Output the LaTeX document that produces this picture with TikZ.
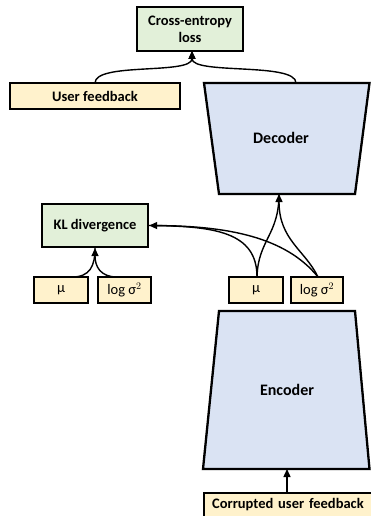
\documentclass[tikz,border=0pt]{standalone}
\usepackage{fontspec}
\setmainfont{Carlito}
\usetikzlibrary{arrows.meta}
\definecolor{boxgreen}{HTML}{E2F0D9}
\definecolor{boxyellow}{HTML}{FFF2CC}
\definecolor{boxblue}{HTML}{DAE3F3}
\tikzset{
  lbox/.style={draw=black, line width=2.3pt, rectangle, inner sep=0pt, align=center, font=\fontsize{14.5}{17}\selectfont\bfseries},
  greenbox/.style={lbox, fill=boxgreen},
  yellowbox/.style={lbox, fill=boxyellow},
  varbox/.style={draw=black, line width=2.3pt, rectangle, inner sep=0pt, fill=boxyellow, minimum height=26pt, font=\fontsize{14.5}{17}\selectfont},
  trap/.style={draw=black, line width=2.3pt, fill=boxblue},
  conn/.style={line width=1.4pt},
  arr/.style={conn, -{Triangle[length=8pt,width=7pt]}},
  biglabel/.style={font=\fontsize{16}{19}\selectfont\bfseries},
}
\begin{document}
\begin{tikzpicture}[x=1pt,y=-1pt]
\useasboundingbox (0,0) rectangle (371,516);
\clip (0,0) rectangle (371,516);
% boxes
\node[greenbox, minimum width=106pt, minimum height=44pt] (ce) at (190,29) {Cross-entropy\\loss};
\node[yellowbox, minimum width=170pt, minimum height=26pt] (uf) at (95,96) {User feedback};
\node[greenbox, minimum width=106pt, minimum height=43pt] (kl) at (95,225.5) {KL divergence};
\node[varbox, minimum width=54pt] (mu1) at (61,290) {μ};
\node[varbox, minimum width=53pt] (ls1) at (124.5,290) {log σ$^2$};
\node[varbox, minimum width=54pt] (mu2) at (256,290) {μ};
\node[varbox, minimum width=52pt] (ls2) at (317,290) {log σ$^2$};
\node[yellowbox, anchor=north west, inner xsep=8pt, inner ysep=2pt, text width=156pt, align=left, text height=13pt, text depth=20pt] (cuf) at (203,492) {Corrupted user feedback};
% decoder / encoder
\draw[trap] (204,83) -- (369.5,83) -- (355,194) -- (219,194) -- cycle;
\node[biglabel] (dec) at (281,138) {Decoder};
\coordinate (dectop) at (296,83);
\coordinate (decbot) at (279,194);
\draw[trap] (219,311) -- (355,311) -- (369.5,469) -- (203,469) -- cycle;
\node[biglabel] (enc) at (287,390) {Encoder};
\coordinate (encbot) at (287,469);
% connectors
\coordinate (ufc) at (95,83);
\coordinate (cein) at (192,51);
\draw[arr] (ufc) .. controls (95,62) and (192,75) .. (cein);
\draw[arr] (dectop) .. controls (296,62) and (192,75) .. (cein);
\coordinate (mu1c) at (72,277);
\coordinate (ls1c) at (117,277);
\draw[conn] (mu1c) .. controls (90,277) and (95,266) .. (kl.south);
\draw[arr] (ls1c) .. controls (100,277) and (95,266) .. (kl.south);
\coordinate (mu2c) at (257,277);
\coordinate (ls2c) at (318,277);
\draw[conn] (mu2c) .. controls (258,240) and (279,235) .. (decbot);
\draw[arr] (ls2c) .. controls (305,250) and (279,240) .. (decbot);
\draw[conn] (mu2c) .. controls (257,232) and (215,226) .. (kl.east);
\draw[arr] (ls2c) .. controls (285,236) and (225,226) .. (kl.east);
\draw[arr] (cuf.north -| encbot) -- (encbot);
\end{tikzpicture}
\end{document}
